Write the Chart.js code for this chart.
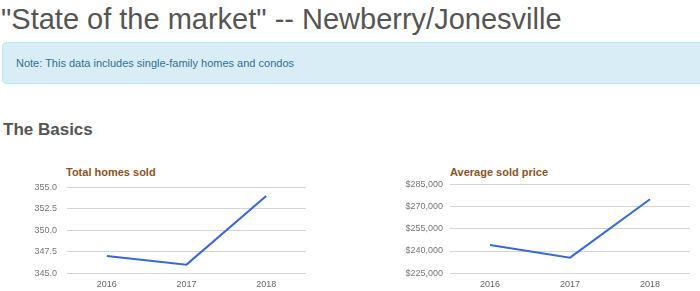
<!DOCTYPE html>
<html>
<head>
<meta charset="utf-8">
<script src="https://cdn.jsdelivr.net/npm/chart.js@4.4.1/dist/chart.umd.min.js"></script>
<style>
  body { margin: 0; width: 700px; height: 291px; overflow: hidden; background: #fff; font-family: "Liberation Sans", Arial, sans-serif; position: relative; }
  h1 { position: absolute; left: 1px; top: 0; margin: 0; font-size: 29px; font-weight: normal; color: #555; line-height: 38px; white-space: nowrap; }
  .note { position: absolute; left: 2px; top: 42px; width: 710px; height: 42px; box-sizing: border-box; background: #d9edf7; border: 1px solid #bce8f1; border-radius: 4px; color: #31708f; font-size: 11px; line-height: 41px; padding-left: 13px; }
  h3 { position: absolute; left: 3px; top: 120px; margin: 0; font-size: 17px; font-weight: bold; color: #555; line-height: 20px; }
  .ctitle { position: absolute; font-size: 11px; font-weight: bold; color: #8a5425; top: 166px; line-height: 13px; }
  canvas { position: absolute; }
</style>
</head>
<body>
<h1>"State of the market" -- Newberry/Jonesville</h1>
<div class="note">Note: This data includes single-family homes and condos</div>
<h3>The Basics</h3>
<div class="ctitle" style="left:66px">Total homes sold</div>
<div class="ctitle" style="left:450px">Average sold price</div>
<div style="position:absolute;left:0;top:172px;width:320px;height:125px"><canvas id="soldChart"></canvas></div>
<div style="position:absolute;left:350px;top:172px;width:350px;height:125px"><canvas id="priceChart"></canvas></div>
<script>
var years = ['2016', '2017', '2018'];
var homesSold = [347, 346, 354];
var avgPrice = [244000, 235500, 275000];
var soldTicks = [345, 347.5, 350, 352.5, 355];
var priceTicks = [225000, 240000, 255000, 270000, 285000];

function makeChart(id, values, ticks, axisWidth, labelPad, rightPad, fmt) {
    return new Chart(id, {
        type: 'line',
        data: {
            labels: years,
            datasets: [{
                data: values,
                borderColor: '#3a66d6',
                borderWidth: 2,
                pointRadius: 0,
                tension: 0,
                fill: false
            }]
        },
        options: {
            responsive: true,
            maintainAspectRatio: false,
            animation: false,
            layout: { padding: { top: 10, right: rightPad, bottom: 1, left: 0 } },
            plugins: { legend: { display: false }, tooltip: { enabled: false } },
            scales: {
                x: {
                    offset: true,
                    grid: { display: false, drawTicks: false },
                    border: { display: false },
                    ticks: { color: '#666', font: { family: 'Liberation Sans', size: 9 }, padding: 6, maxRotation: 0 }
                },
                y: {
                    min: ticks[0],
                    max: ticks[ticks.length - 1],
                    afterBuildTicks: function (scale) {
                        scale.ticks = ticks.map(function (v) { return { value: v }; });
                    },
                    afterFit: function (scale) { scale.width = axisWidth; },
                    grid: { color: '#d4d4d4', drawTicks: false },
                    border: { display: false },
                    ticks: {
                        color: '#777',
                        font: { family: 'Liberation Sans', size: 9 },
                        padding: labelPad,
                        callback: fmt
                    }
                }
            }
        }
    });
}

makeChart('soldChart', homesSold, soldTicks, 67, 10, 14, function (v) { return v.toFixed(1); });
makeChart('priceChart', avgPrice, priceTicks, 100, 7, 10, function (v) { return '$' + v.toLocaleString('en-US'); });
</script>
</body>
</html>
